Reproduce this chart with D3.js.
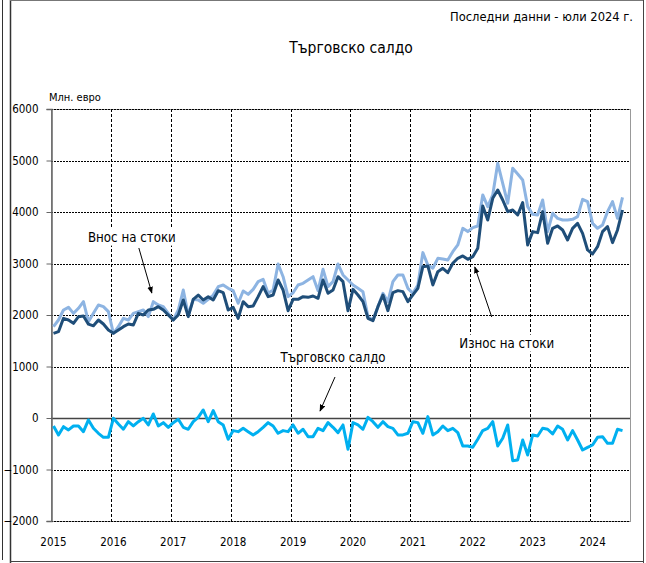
<!DOCTYPE html>
<html>
<head>
<meta charset="utf-8">
<script src="https://cdn.jsdelivr.net/npm/d3@7"></script>
<style>
  body { margin: 0; background: #fff; }
  svg text { font-family: 'DejaVu Sans Condensed', 'DejaVu Sans', sans-serif; font-stretch: condensed; fill: #000; }
</style>
</head>
<body>
<svg id="chart" width="646" height="563"></svg>
<script>
// monthly values, Jan 2015 - Jul 2024, млн. евро
var years = [2015, 2016, 2017, 2018, 2019, 2020, 2021, 2022, 2023, 2024];
var yTicks = [-2000, -1000, 0, 1000, 2000, 3000, 4000, 5000, 6000];

var importData = [
  1773, 1903, 2097, 2149, 2032, 2130, 2259, 1870, 2032, 2194, 2162, 2065,
  1644, 1773, 1935, 1903, 2032, 2065, 2097, 1968, 2259, 2194, 2162, 2032,
  1903, 2097, 2485, 2000, 2304, 2291, 2227, 2304, 2388, 2550, 2583, 2518,
  2472, 2227, 2466, 2401, 2498, 2647, 2692, 2421, 2485, 2990, 2744, 2356,
  2433, 2583, 2615, 2680, 2744, 2472, 2887, 2550, 2647, 2990, 2777, 2680,
  2583, 2518, 2453, 1968, 1903, 2162, 2421, 2259, 2647, 2777, 2777, 2518,
  2421, 2583, 3211, 2971, 2907, 3101, 3088, 3068, 3230, 3360, 3683, 3619,
  3696, 3729, 4331, 4104, 4331, 4945, 4557, 4169, 4848, 4738, 4622, 4104,
  3955, 3942, 4233, 3619, 3975, 3877, 3845, 3845, 3858, 3910, 4246, 4201,
  3780, 3683, 3748, 4007, 4201, 3877, 4285
];

var exportData = [
  1644, 1676, 1935, 1903, 1838, 1968, 1980, 1822, 1790, 1903, 1825, 1709,
  1644, 1709, 1773, 1825, 1806, 2032, 2000, 2097, 2110, 2162, 2097, 2000,
  1903, 2000, 2291, 1968, 2304, 2388, 2291, 2356, 2291, 2472, 2433, 2097,
  2149, 1935, 2259, 2162, 2175, 2356, 2550, 2356, 2388, 2680, 2485, 2084,
  2304, 2304, 2356, 2343, 2369, 2324, 2680, 2421, 2485, 2744, 2647, 2084,
  2498, 2388, 2259, 1935, 1890, 2162, 2388, 2084, 2433, 2473, 2454, 2259,
  2389, 2518, 2939, 2952, 2583, 2842, 2907, 2822, 3004, 3101, 3146, 3081,
  3133, 3295, 4117, 3845, 4266, 4428, 4233, 4007, 4039, 3942, 4182, 3360,
  3619, 3599, 4007, 3392, 3683, 3729, 3651, 3457, 3683, 3780, 3586, 3263,
  3185, 3327, 3619, 3716, 3405, 3651, 4039
];

var balanceData = [
  -155, -329, -168, -232, -155, -155, -265, -38, -200, -297, -375, -375,
  -6, -116, -219, -71, -155, -71, -6, -135, 78, -155, -90, -181,
  -90, -25, -181, -219, -71, 13, 156, -71, 143, -71, -135, -414,
  -245, -265, -200, -265, -329, -265, -181, -90, -155, -297, -245, -265,
  -135, -297, -219, -362, -362, -200, -245, -90, -181, -284, -135, -608,
  -90, -135, -219, 13, -71, -181, -71, -168, -200, -329, -329, -297,
  -71, -90, -297, 26, -329, -265, -155, -245, -200, -284, -543, -543,
  -569, -414, -245, -200, -71, -543, -394, -135, -828, -815, -427, -718,
  -329, -349, -200, -219, -310, -155, -219, -427, -245, -427, -621, -569,
  -524, -375, -362, -491, -491, -219, -245
];

// label text, label position and arrow (month index, value)
var notes = [
  { text: 'Внос на стоки',   at: [16.2, 3515], from: [17.6, 3301], to: [20.2, 2427] },
  { text: 'Износ на стоки',  at: [91.3, 1456], from: [88.3, 1961], to: [84.9, 2932] },
  { text: 'Търговско салдо', at: [56.5, 1184], from: [56.9, 796],  to: [53.9, 136] }
];

var svg = d3.select('#chart');
var plotLeft = 51, plotRight = 630, plotTop = 109, plotBottom = 521;
var nMonths = importData.length + 1;

var x = d3.scaleLinear().domain([0, nMonths]).range([plotLeft, plotRight]);
var y = d3.scaleLinear().domain([-2000, 6000]).range([plotBottom, plotTop]);

// outer frame
svg.append('line').attr('x1', 2.5).attr('x2', 2.5).attr('y1', 0).attr('y2', 560)
  .attr('stroke', '#333');
svg.append('line').attr('x1', 10.5).attr('x2', 10.5).attr('y1', 0).attr('y2', 563)
  .attr('stroke', '#333').attr('stroke-width', 1.5);
svg.append('line').attr('x1', 10).attr('x2', 644).attr('y1', 0.5).attr('y2', 0.5)
  .attr('stroke', '#777');
svg.append('line').attr('x1', 643.5).attr('x2', 643.5).attr('y1', 0).attr('y2', 563)
  .attr('stroke', '#444');
svg.append('line').attr('x1', 10).attr('x2', 644).attr('y1', 561.5).attr('y2', 561.5)
  .attr('stroke', '#444');

// titles
svg.append('text').attr('x', 633).attr('y', 21).attr('text-anchor', 'end')
  .style('font-size', '12.8px').text('Последни данни - юли 2024 г.');
svg.append('text').attr('x', 351).attr('y', 53).attr('text-anchor', 'middle')
  .style('font-size', '15.5px').text('Търговско салдо');
svg.append('text').attr('x', 49).attr('y', 101)
  .style('font-size', '11px').text('Млн. евро');

// plot border
svg.append('rect').attr('x', plotLeft + 0.5).attr('y', plotTop + 0.5)
  .attr('width', plotRight - plotLeft).attr('height', plotBottom - plotTop)
  .attr('fill', 'none').attr('stroke', '#999');

// horizontal grid
var grid = svg.append('g');
grid.selectAll('line.h')
  .data(yTicks.filter(d => d != 0))
  .enter().append('line')
  .attr('class', 'h')
  .attr('x1', plotLeft).attr('x2', plotRight)
  .attr('y1', d => Math.round(y(d)) + 0.5).attr('y2', d => Math.round(y(d)) + 0.5)
  .attr('stroke', '#000').attr('stroke-dasharray', '2,1');

// vertical grid at year starts
grid.selectAll('line.v')
  .data(years.slice(1))
  .enter().append('line')
  .attr('class', 'v')
  .attr('x1', (d, i) => Math.round(x((i + 1) * 12)) + 0.5)
  .attr('x2', (d, i) => Math.round(x((i + 1) * 12)) + 0.5)
  .attr('y1', plotTop).attr('y2', plotBottom)
  .attr('stroke', '#000').attr('stroke-dasharray', '3,2');

// zero line
svg.append('line').attr('x1', plotLeft).attr('x2', plotRight)
  .attr('y1', Math.round(y(0)) + 0.5).attr('y2', Math.round(y(0)) + 0.5)
  .attr('stroke', '#444').attr('stroke-width', 1.5);

// y axis
var yAxis = svg.append('g')
  .attr('transform', 'translate(' + (plotLeft + 0.5) + ',0)')
  .call(d3.axisLeft(y).tickValues(yTicks).tickFormat(d3.format('d')).tickSize(5).tickPadding(8));
yAxis.attr('font-family', null).attr('font-size', null);
yAxis.select('.domain').attr('stroke', '#666').attr('stroke-width', 1.5);
yAxis.selectAll('.tick line').attr('stroke', '#666');
yAxis.selectAll('.tick text').style('font-size', '11.5px');

// year labels
svg.append('g').selectAll('text')
  .data(years)
  .enter().append('text')
  .attr('x', (d, i) => x(i * 12 + 0.5))
  .attr('y', 546)
  .attr('text-anchor', 'middle')
  .style('font-size', '11.5px')
  .text(d => d);

// series
var line = d3.line()
  .x((d, i) => x(i + 0.5))
  .y(d => y(d));

svg.append('path').datum(importData)
  .attr('d', line).attr('fill', 'none')
  .attr('stroke', '#8db4e2').attr('stroke-width', 3).attr('stroke-linejoin', 'round');
svg.append('path').datum(exportData)
  .attr('d', line).attr('fill', 'none')
  .attr('stroke', '#1f4e79').attr('stroke-width', 3).attr('stroke-linejoin', 'round');
svg.append('path').datum(balanceData)
  .attr('d', line).attr('fill', 'none')
  .attr('stroke', '#00b0f0').attr('stroke-width', 3).attr('stroke-linejoin', 'round');

// annotations
var defs = svg.append('defs');
defs.append('marker')
  .attr('id', 'arrow')
  .attr('viewBox', '0 0 10 10')
  .attr('refX', 9).attr('refY', 5)
  .attr('markerWidth', 7).attr('markerHeight', 7)
  .attr('orient', 'auto')
  .append('path').attr('d', 'M0,1 L10,5 L0,9 z').attr('fill', '#000');

var ann = svg.append('g');
notes.forEach(function(n) {
  var t = ann.append('text')
    .attr('x', x(n.at[0])).attr('y', y(n.at[1]))
    .attr('text-anchor', 'middle').attr('dy', '0.35em')
    .style('font-size', '13.2px')
    .text(n.text);
  var b = t.node().getBBox();
  ann.insert('rect', 'text')
    .attr('x', b.x - 3).attr('y', b.y - 1)
    .attr('width', b.width + 6).attr('height', b.height + 2)
    .attr('fill', '#fff');
  ann.append('line')
    .attr('x1', x(n.from[0])).attr('y1', y(n.from[1]))
    .attr('x2', x(n.to[0])).attr('y2', y(n.to[1]))
    .attr('stroke', '#000').attr('stroke-width', 1)
    .attr('marker-end', 'url(#arrow)');
});
</script>
</body>
</html>
